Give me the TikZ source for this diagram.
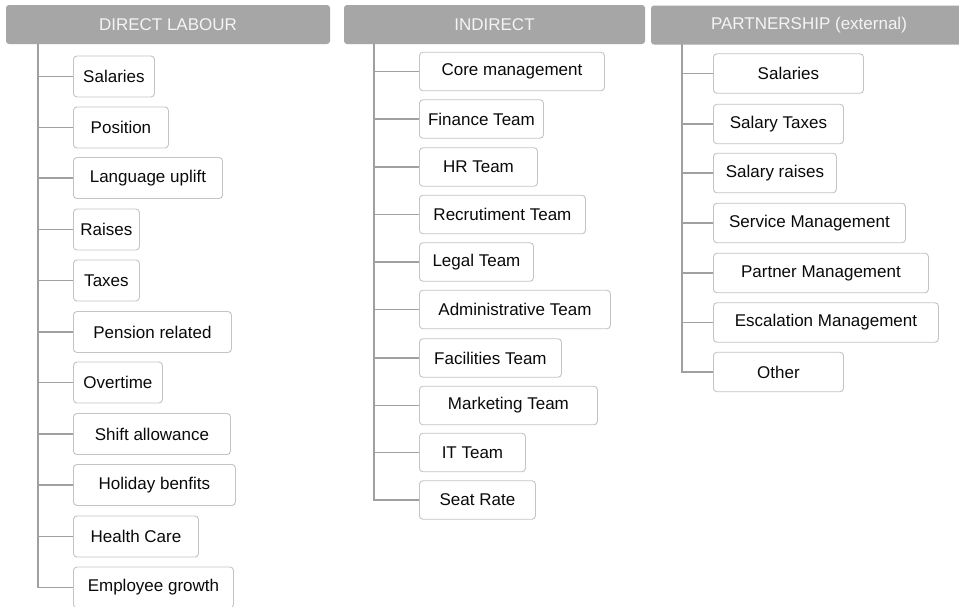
\documentclass[tikz,border=0pt]{standalone}
\usepackage{fontspec}
\setmainfont{Liberation Sans}
\definecolor{headgray}{HTML}{A6A6A6}
\definecolor{headtext}{HTML}{F4F4F4}
\definecolor{boxgray}{HTML}{C4C4C4}
\definecolor{linegray}{HTML}{A0A0A0}
\definecolor{itemtext}{HTML}{0A0A0A}
\tikzset{
    head/.style={fill=headgray, text=headtext, rounded corners=3pt, minimum height=39pt, inner sep=0pt, font=\fontsize{17}{20}\selectfont},
    item/.style={draw=boxgray, line width=0.9pt, rounded corners=3.5pt, anchor=west, inner sep=0pt, text=itemtext, font=\fontsize{17}{20}\selectfont},
    link/.style={draw=linegray, line width=1.2pt}
}

\begin{document}
\begin{tikzpicture}[x=1pt, y=-1pt]
        \clip (0, 0) rectangle (959, 606);
        \fill [white] (0, 0) rectangle (959, 606);

        % headers
        \node [head, minimum width=324] (hdirect) at (168, 24.5) {DIRECT LABOUR};
        \node [head, minimum width=301] (hindirect) at (494.5, 24.5) {INDIRECT};
        \node [head, minimum width=316] (hpartner) at (809, 25) {PARTNERSHIP (external)};

        % direct labour
        \begin{scope}[minimum height=41pt]
            \node [item, minimum width=81] (dsalaries) at (73, 76.5) {Salaries};
            \node [item, minimum width=95] (dposition) at (73, 127.5) {Position};
            \node [item, minimum width=149] (dlanguage) at (73, 178) {Language uplift};
            \node [item, minimum width=66] (draises) at (73, 229.5) {Raises};
            \node [item, minimum width=66] (dtaxes) at (73, 280.5) {Taxes};
            \node [item, minimum width=158] (dpension) at (73, 332) {Pension related};
            \node [item, minimum width=89] (dovertime) at (73, 382.5) {Overtime};
            \node [item, minimum width=157] (dshift) at (73, 434) {Shift allowance};
            \node [item, minimum width=162] (dholiday) at (73, 485) {Holiday benfits};
            \node [item, minimum width=125] (dhealth) at (73, 536.5) {Health Care};
            \node [item, minimum width=160] (dgrowth) at (73, 587.5) {Employee growth};
        \end{scope}
        \coordinate (dtrunk) at (38, 44);
        \draw [link] (dtrunk) |- (dgrowth.west);
        \draw [link] (dtrunk |- dsalaries.west) -- (dsalaries.west);
        \draw [link] (dtrunk |- dposition.west) -- (dposition.west);
        \draw [link] (dtrunk |- dlanguage.west) -- (dlanguage.west);
        \draw [link] (dtrunk |- draises.west) -- (draises.west);
        \draw [link] (dtrunk |- dtaxes.west) -- (dtaxes.west);
        \draw [link] (dtrunk |- dpension.west) -- (dpension.west);
        \draw [link] (dtrunk |- dovertime.west) -- (dovertime.west);
        \draw [link] (dtrunk |- dshift.west) -- (dshift.west);
        \draw [link] (dtrunk |- dholiday.west) -- (dholiday.west);
        \draw [link] (dtrunk |- dhealth.west) -- (dhealth.west);

        % indirect
        \begin{scope}[minimum height=38.5pt]
            \node [item, minimum width=185] (icore) at (419, 71.5) {Core management};
            \node [item, minimum width=124] (ifinance) at (419, 119) {Finance Team};
            \node [item, minimum width=118] (ihr) at (419, 167) {HR Team};
            \node [item, minimum width=166] (irecruit) at (419, 214.5) {Recrutiment Team};
            \node [item, minimum width=114] (ilegal) at (419, 262) {Legal Team};
            \node [item, minimum width=191] (iadmin) at (419, 309.5) {Administrative Team};
            \node [item, minimum width=142] (ifacilities) at (419, 358) {Facilities Team};
            \node [item, minimum width=178] (imarketing) at (419, 405.5) {Marketing Team};
            \node [item, minimum width=106] (iit) at (419, 452.5) {IT Team};
            \node [item, minimum width=116] (iseat) at (419, 500) {Seat Rate};
        \end{scope}
        \coordinate (itrunk) at (374, 44);
        \draw [link] (itrunk) |- (iseat.west);
        \draw [link] (itrunk |- icore.west) -- (icore.west);
        \draw [link] (itrunk |- ifinance.west) -- (ifinance.west);
        \draw [link] (itrunk |- ihr.west) -- (ihr.west);
        \draw [link] (itrunk |- irecruit.west) -- (irecruit.west);
        \draw [link] (itrunk |- ilegal.west) -- (ilegal.west);
        \draw [link] (itrunk |- iadmin.west) -- (iadmin.west);
        \draw [link] (itrunk |- ifacilities.west) -- (ifacilities.west);
        \draw [link] (itrunk |- imarketing.west) -- (imarketing.west);
        \draw [link] (itrunk |- iit.west) -- (iit.west);

        % partnership
        \begin{scope}[minimum height=39.5pt]
            \node [item, minimum width=150] (psalaries) at (713, 73.5) {Salaries};
            \node [item, minimum width=130] (ptaxes) at (713, 124) {Salary Taxes};
            \node [item, minimum width=123] (praises) at (713, 173) {Salary raises};
            \node [item, minimum width=192] (pservice) at (713, 223) {Service Management};
            \node [item, minimum width=215] (ppartner) at (713, 273) {Partner Management};
            \node [item, minimum width=225] (pescalation) at (713, 322.5) {Escalation Management};
            \node [item, minimum width=130] (pother) at (713, 372) {Other};
        \end{scope}
        \coordinate (ptrunk) at (682, 44);
        \draw [link] (ptrunk) |- (pother.west);
        \draw [link] (ptrunk |- psalaries.west) -- (psalaries.west);
        \draw [link] (ptrunk |- ptaxes.west) -- (ptaxes.west);
        \draw [link] (ptrunk |- praises.west) -- (praises.west);
        \draw [link] (ptrunk |- pservice.west) -- (pservice.west);
        \draw [link] (ptrunk |- ppartner.west) -- (ppartner.west);
        \draw [link] (ptrunk |- pescalation.west) -- (pescalation.west);
    \end{tikzpicture}
\end{document}
